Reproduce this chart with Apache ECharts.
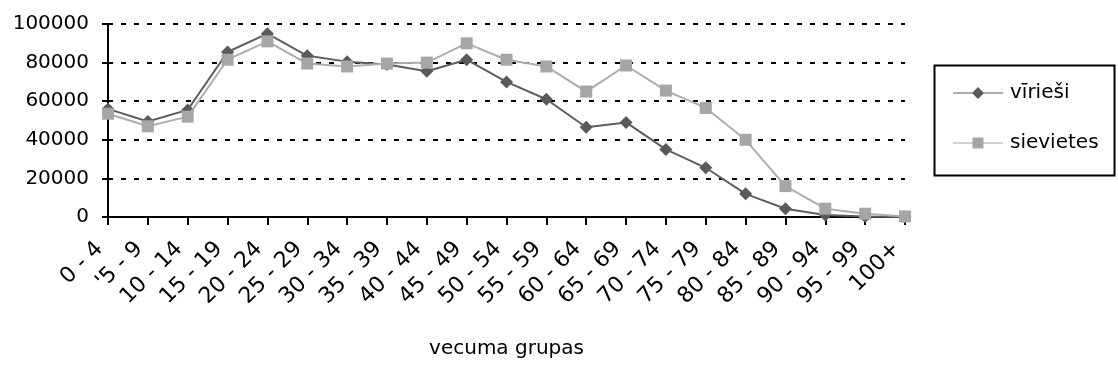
<!DOCTYPE html>
<html>
<head>
<meta charset="utf-8">
<script src="https://cdn.jsdelivr.net/npm/echarts@6/dist/echarts.min.js"></script>
<style>
  html, body { margin: 0; padding: 0; background: #fff; }
  #chart { width: 1118px; height: 375px; }
</style>
</head>
<body>
<div id="chart"></div>
<script>
// Age groups
const categories = ["0 - 4", "'5 - 9", "10 - 14", "15 - 19", "20 - 24", "25 - 29", "30 - 34",
  "35 - 39", "40 - 44", "45 - 49", "50 - 54", "55 - 59", "60 - 64", "65 - 69", "70 - 74",
  "75 - 79", "80 - 84", "85 - 89", "90 - 94", "95 - 99", "100+"];

// Population by age group
const men = [56000, 49500, 55500, 85500, 95000, 83500, 80500, 79000, 75500, 81500, 70000,
  61000, 46500, 49000, 35000, 25500, 12000, 4300, 1000, 300, 50];
const women = [53500, 47000, 52000, 81500, 91000, 79500, 78000, 79500, 80000, 90000, 81500,
  78000, 65000, 78500, 65500, 56500, 40000, 16000, 4300, 1700, 300];

const yTicks = [0, 20000, 40000, 60000, 80000, 100000];

const FONT = 'DejaVu Sans';

// Legend keys: a short line with the series marker in its middle
const ICON_DIAMOND = 'path://M0,6.4 L50,6.4 L50,7.6 L0,7.6 Z M25,1 L31,7 L25,13 L19,7 Z';
const ICON_SQUARE = 'path://M0,6.4 L50,6.4 L50,7.6 L0,7.6 Z M19.5,1.5 L30.5,1.5 L30.5,12.5 L19.5,12.5 Z';

const chart = echarts.init(document.getElementById('chart'), null, { renderer: 'canvas' });

chart.setOption({
  backgroundColor: '#ffffff',
  animation: false,
  textStyle: { fontFamily: FONT, color: '#000' },
  grid: { left: 108, top: 24, right: 213, bottom: 158, containLabel: false },
  legend: {
    orient: 'vertical',
    left: 953,
    top: 83,
    padding: 0,
    itemGap: 30,
    itemWidth: 50,
    itemHeight: 14,
    textStyle: { fontFamily: FONT, fontSize: 20, lineHeight: 20, color: '#000', padding: [0, 0, 0, 2] },
    data: [
      { name: 'vīrieši', icon: ICON_DIAMOND },
      { name: 'sievietes', icon: ICON_SQUARE }
    ]
  },
  graphic: [{
    type: 'rect',
    left: 932, top: 63,
    shape: { width: 180, height: 110 },
    style: { fill: 'none', stroke: '#000', lineWidth: 2 },
    z: 0
  }],
  xAxis: {
    type: 'category',
    data: categories,
    boundaryGap: false,
    name: 'vecuma grupas',
    nameLocation: 'middle',
    nameGap: 122,
    nameTextStyle: { fontFamily: FONT, fontSize: 20, color: '#000' },
    axisLine: { lineStyle: { color: '#000', width: 2 } },
    axisTick: { alignWithLabel: true, length: 8, lineStyle: { color: '#000', width: 2 } },
    axisLabel: {
      interval: 0,
      rotate: 45,
      margin: 20,
      fontFamily: FONT,
      fontSize: 22,
      color: '#000',
      padding: [0, 12, 0, 0]
    },
    splitLine: { show: false }
  },
  yAxis: {
    type: 'value',
    min: yTicks[0],
    max: yTicks[yTicks.length - 1],
    interval: yTicks[1] - yTicks[0],
    axisLine: { show: true, lineStyle: { color: '#000', width: 2 } },
    axisTick: { show: true, length: 6, lineStyle: { color: '#000', width: 2 } },
    axisLabel: {
      margin: 19,
      fontFamily: FONT,
      fontSize: 20,
      color: '#000',
      formatter: v => String(v)
    },
    splitLine: {
      show: true,
      lineStyle: { color: '#000', width: 2, type: [5, 8] }
    }
  },
  series: [
    {
      name: 'vīrieši',
      type: 'line',
      data: men,
      symbol: 'diamond',
      symbolSize: 13,
      lineStyle: { color: '#5e5e5e', width: 2 },
      itemStyle: { color: '#5a5a5a' },
      z: 3
    },
    {
      name: 'sievietes',
      type: 'line',
      data: women,
      symbol: 'rect',
      symbolSize: 12,
      lineStyle: { color: '#adadad', width: 2 },
      itemStyle: { color: '#a6a6a6' },
      z: 4
    }
  ]
});
</script>
</body>
</html>
